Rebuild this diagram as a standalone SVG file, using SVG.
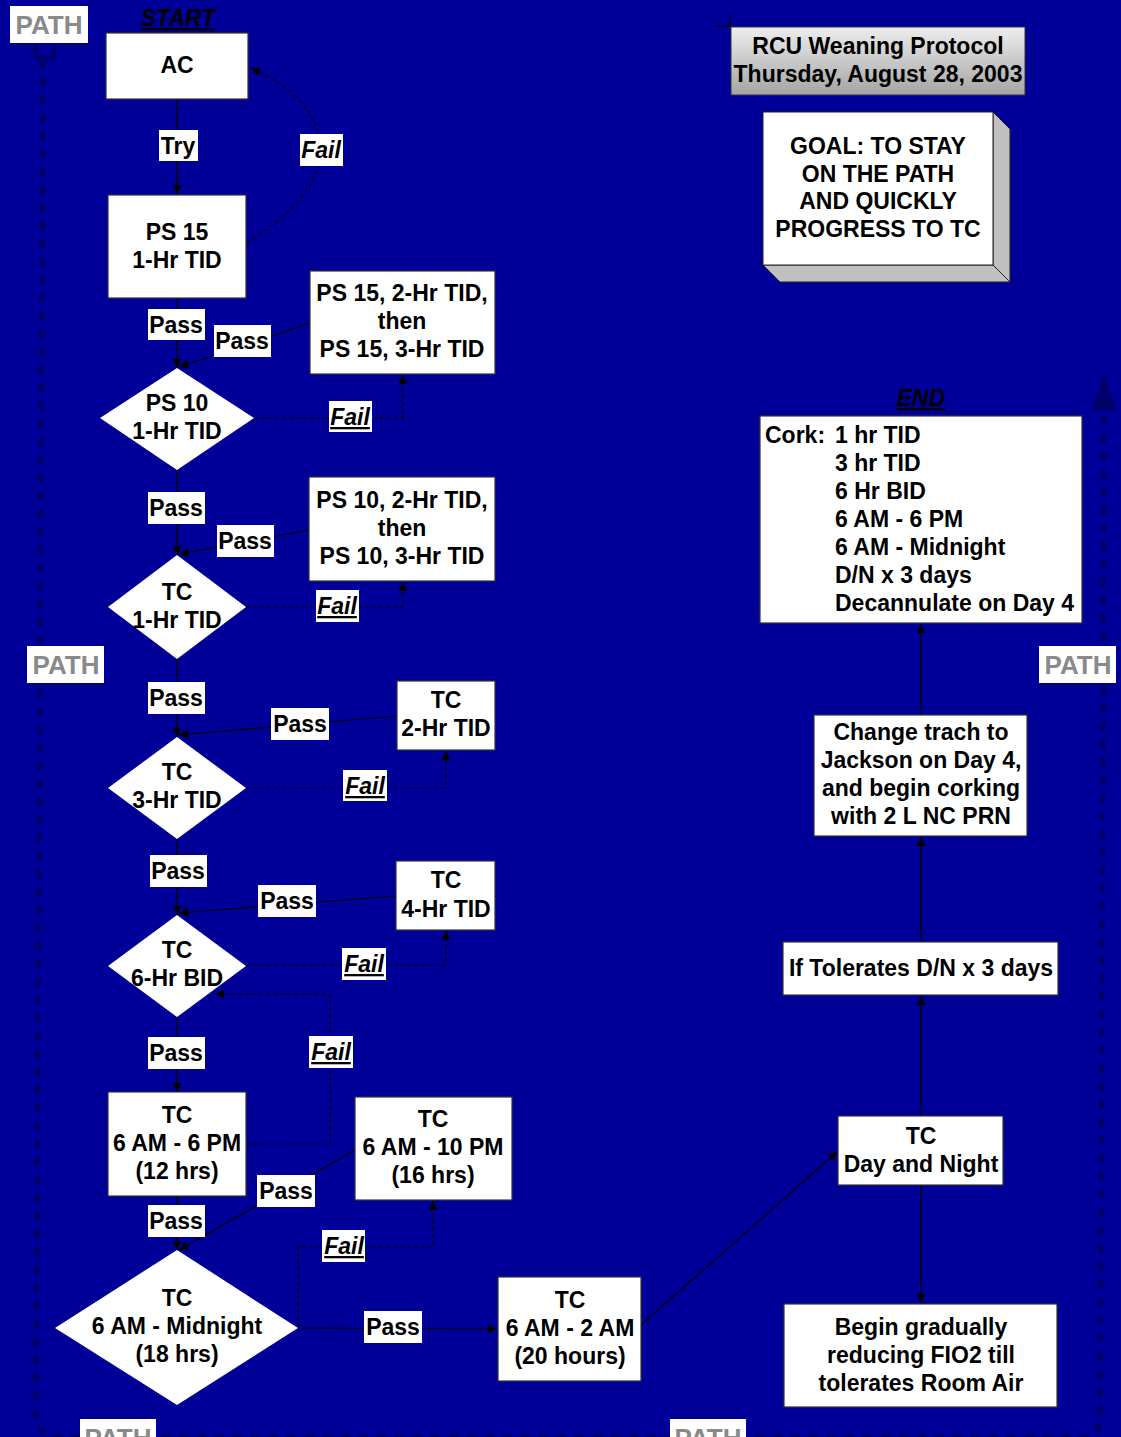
<svg xmlns="http://www.w3.org/2000/svg" width="1121" height="1437" viewBox="0 0 1121 1437">
<style>
.t{font-family:"Liberation Sans",Arial,sans-serif;font-weight:bold;font-size:23px;text-anchor:middle;fill:#000}
.l{text-anchor:start}
.i{font-style:italic}
.u{text-decoration:underline}
.box{fill:#fff;stroke:#333;stroke-width:1.2}
.dia{fill:#fff;stroke:none}
.lab{fill:#fff}
.c{fill:none;stroke:#000;stroke-width:1.2}
.d{fill:none;stroke:#000;stroke-width:1.2;stroke-dasharray:4 3}
.path{fill:none;stroke:#00006a;stroke-width:6;stroke-linecap:round;stroke-dasharray:4 14}
.pl{fill:#fff}
.pt{font-family:"Liberation Sans",Arial,sans-serif;font-weight:bold;font-size:26px;fill:#8a8a8a;text-anchor:middle}
</style>
<defs>
<marker id="a" viewBox="0 0 10 10" refX="10" refY="5" markerWidth="10" markerHeight="9" markerUnits="userSpaceOnUse" orient="auto">
<path d="M0,0 L10,5 L0,10 z" fill="#000"/>
</marker>
<linearGradient id="g" x1="0" y1="0" x2="0" y2="1">
<stop offset="0" stop-color="#eeeeee"/>
<stop offset="1" stop-color="#a4a4a4"/>
</linearGradient>
</defs>
<rect width="1121" height="1437" fill="#000099"/>

<g id="path-line">
<path class="path" d="M43,62 L36,1418 Q38,1437 58,1437 L1085,1437 Q1099,1435 1100,1420 L1104,412"/>
<path d="M36,45 V54 Q36,59 41,59 H49 Q54,59 54,54 V45" fill="none" stroke="#00006a" stroke-width="5"/>
<polygon points="1104,373 1116,410 1092,410" fill="#00006a"/>
<rect class="pl" x="10" y="6" width="78" height="37"/><text class="pt" x="49" y="34">PATH</text>
<rect class="pl" x="27" y="646" width="77" height="37"/><text class="pt" x="66" y="674">PATH</text>
<rect class="pl" x="1039" y="646" width="77" height="37"/><text class="pt" x="1078" y="674">PATH</text>
<rect class="pl" x="80" y="1419" width="76" height="30"/><text class="pt" x="118" y="1447">PATH</text>
<rect class="pl" x="670" y="1419" width="76" height="30"/><text class="pt" x="708" y="1447">PATH</text>
</g>

<g id="connectors">
<line class="c" x1="177" y1="99" x2="177" y2="194" marker-end="url(#a)"/>
<path class="d" d="M247,243 C292,215 322,182 320,147 C318,110 290,86 251,68" marker-end="url(#a)"/>
<line class="c" x1="177" y1="298" x2="177" y2="368" marker-end="url(#a)"/>
<line class="c" x1="310" y1="323" x2="179" y2="367" marker-end="url(#a)"/>
<polyline class="d" points="254,418 403,418 403,375" marker-end="url(#a)"/>
<line class="c" x1="177" y1="470" x2="177" y2="555" marker-end="url(#a)"/>
<line class="c" x1="309" y1="530" x2="179" y2="554" marker-end="url(#a)"/>
<polyline class="d" points="246,607 403,607 403,582" marker-end="url(#a)"/>
<line class="c" x1="177" y1="659" x2="177" y2="737" marker-end="url(#a)"/>
<line class="c" x1="397" y1="716" x2="179" y2="735" marker-end="url(#a)"/>
<polyline class="d" points="246,788 446,788 446,751" marker-end="url(#a)"/>
<line class="c" x1="177" y1="839" x2="177" y2="915" marker-end="url(#a)"/>
<line class="c" x1="396" y1="896" x2="179" y2="913" marker-end="url(#a)"/>
<polyline class="d" points="246,965 446,965 446,931" marker-end="url(#a)"/>
<polyline class="d" points="246,1144 330,1144 330,994 215,994" marker-end="url(#a)"/>
<line class="c" x1="177" y1="1017" x2="177" y2="1092" marker-end="url(#a)"/>
<line class="c" x1="177" y1="1196" x2="177" y2="1250" marker-end="url(#a)"/>
<line class="c" x1="355" y1="1150" x2="179" y2="1250" marker-end="url(#a)"/>
<polyline class="d" points="298,1327 298,1247 433,1247 433,1201" marker-end="url(#a)"/>
<line class="c" x1="298" y1="1328" x2="497" y2="1329" marker-end="url(#a)"/>
<line class="c" x1="641" y1="1325" x2="837" y2="1152" marker-end="url(#a)"/>
<line class="c" x1="921" y1="1185" x2="921" y2="1303" marker-end="url(#a)"/>
<line class="c" x1="921" y1="1116" x2="921" y2="996" marker-end="url(#a)"/>
<line class="c" x1="921" y1="942" x2="921" y2="837" marker-end="url(#a)"/>
<line class="c" x1="921" y1="715" x2="921" y2="624" marker-end="url(#a)"/>
</g>

<g id="labels">
<rect class="lab" x="159" y="130" width="39" height="31"/><text class="t" x="178" y="154">Try</text>
<rect class="lab" x="300" y="134" width="43" height="32"/><text class="t i" x="321" y="158">Fail</text>
<rect class="lab" x="148" y="309" width="57" height="31"/><text class="t" x="176" y="333">Pass</text>
<rect class="lab" x="214" y="325" width="57" height="32"/><text class="t" x="242" y="349">Pass</text>
<rect class="lab" x="329" y="401" width="43" height="31"/><text class="t i u" x="350" y="425">Fail</text>
<rect class="lab" x="148" y="492" width="57" height="32"/><text class="t" x="176" y="516">Pass</text>
<rect class="lab" x="217" y="525" width="57" height="32"/><text class="t" x="245" y="549">Pass</text>
<rect class="lab" x="316" y="590" width="43" height="32"/><text class="t i u" x="337" y="614">Fail</text>
<rect class="lab" x="148" y="682" width="57" height="32"/><text class="t" x="176" y="706">Pass</text>
<rect class="lab" x="271" y="708" width="58" height="32"/><text class="t" x="300" y="732">Pass</text>
<rect class="lab" x="343" y="770" width="44" height="31"/><text class="t i u" x="365" y="794">Fail</text>
<rect class="lab" x="150" y="855" width="57" height="32"/><text class="t" x="178" y="879">Pass</text>
<rect class="lab" x="258" y="885" width="58" height="32"/><text class="t" x="287" y="909">Pass</text>
<rect class="lab" x="342" y="948" width="44" height="32"/><text class="t i u" x="364" y="972">Fail</text>
<rect class="lab" x="309" y="1036" width="44" height="32"/><text class="t i u" x="331" y="1060">Fail</text>
<rect class="lab" x="148" y="1037" width="57" height="32"/><text class="t" x="176" y="1061">Pass</text>
<rect class="lab" x="148" y="1205" width="57" height="32"/><text class="t" x="176" y="1229">Pass</text>
<rect class="lab" x="257" y="1175" width="58" height="32"/><text class="t" x="286" y="1199">Pass</text>
<rect class="lab" x="322" y="1230" width="43" height="32"/><text class="t i u" x="344" y="1254">Fail</text>
<rect class="lab" x="364" y="1311" width="58" height="32"/><text class="t" x="393" y="1335">Pass</text>
</g>

<g id="start"><text class="t i u" x="178" y="26">START</text></g>
<g id="ac"><rect class="box" x="106" y="33" width="142" height="66"/><text class="t" x="177" y="73">AC</text></g>
<g id="ps15"><rect class="box" x="108" y="195" width="138" height="103"/><text class="t" x="177" y="240">PS 15</text><text class="t" x="177" y="268">1-Hr TID</text></g>
<g id="ps15-2hr"><rect class="box" x="310" y="271" width="185" height="103"/><text class="t" x="402" y="301">PS 15, 2-Hr TID,</text><text class="t" x="402" y="329">then</text><text class="t" x="402" y="357">PS 15, 3-Hr TID</text></g>
<g id="ps10"><polygon class="dia" points="177,368 254,418 177,470 100,418"/><text class="t" x="177" y="411">PS 10</text><text class="t" x="177" y="439">1-Hr TID</text></g>
<g id="ps10-2hr"><rect class="box" x="309" y="477" width="186" height="104"/><text class="t" x="402" y="508">PS 10, 2-Hr TID,</text><text class="t" x="402" y="536">then</text><text class="t" x="402" y="564">PS 10, 3-Hr TID</text></g>
<g id="tc1"><polygon class="dia" points="177,555 246,607 177,659 108,607"/><text class="t" x="177" y="600">TC</text><text class="t" x="177" y="628">1-Hr TID</text></g>
<g id="tc2"><rect class="box" x="397" y="681" width="98" height="69"/><text class="t" x="446" y="708">TC</text><text class="t" x="446" y="736">2-Hr TID</text></g>
<g id="tc3"><polygon class="dia" points="177,737 246,788 177,839 108,788"/><text class="t" x="177" y="780">TC</text><text class="t" x="177" y="808">3-Hr TID</text></g>
<g id="tc4"><rect class="box" x="396" y="861" width="99" height="69"/><text class="t" x="446" y="888">TC</text><text class="t" x="446" y="917">4-Hr TID</text></g>
<g id="tc6bid"><polygon class="dia" points="177,915 246,966 177,1017 108,966"/><text class="t" x="177" y="958">TC</text><text class="t" x="177" y="986">6-Hr BID</text></g>
<g id="tc6-6"><rect class="box" x="108" y="1092" width="138" height="104"/><text class="t" x="177" y="1123">TC</text><text class="t" x="177" y="1151">6 AM - 6 PM</text><text class="t" x="177" y="1179">(12 hrs)</text></g>
<g id="tc6-10"><rect class="box" x="355" y="1097" width="157" height="103"/><text class="t" x="433" y="1127">TC</text><text class="t" x="433" y="1155">6 AM - 10 PM</text><text class="t" x="433" y="1183">(16 hrs)</text></g>
<g id="tcmid"><polygon class="dia" points="177,1250 298,1328 177,1405 55,1328"/><text class="t" x="177" y="1306">TC</text><text class="t" x="177" y="1334">6 AM - Midnight</text><text class="t" x="177" y="1362">(18 hrs)</text></g>
<g id="tc6-2"><rect class="box" x="498" y="1277" width="143" height="104"/><text class="t" x="570" y="1308">TC</text><text class="t" x="570" y="1336">6 AM - 2 AM</text><text class="t" x="570" y="1364">(20 hours)</text></g>
<g id="tcdn"><rect class="box" x="838" y="1116" width="165" height="69"/><text class="t" x="921" y="1144">TC</text><text class="t" x="921" y="1172">Day and Night</text></g>
<g id="begin"><rect class="box" x="784" y="1304" width="273" height="103"/><text class="t" x="921" y="1335">Begin gradually</text><text class="t" x="921" y="1363">reducing FIO2 till</text><text class="t" x="921" y="1391">tolerates Room Air</text></g>
<g id="iftol"><rect class="box" x="783" y="942" width="275" height="53"/><text class="t" x="921" y="976">If Tolerates D/N x 3 days</text></g>
<g id="change"><rect class="box" x="814" y="715" width="213" height="121"/><text class="t" x="921" y="740">Change trach to</text><text class="t" x="921" y="768">Jackson on Day 4,</text><text class="t" x="921" y="796">and begin corking</text><text class="t" x="921" y="824">with 2 L NC PRN</text></g>
<g id="end"><text class="t i u" x="921" y="406">END</text></g>
<g id="cork"><rect class="box" x="760" y="416" width="322" height="207"/>
<text class="t l" x="765" y="443">Cork:</text>
<text class="t l" x="835" y="443">1 hr TID</text>
<text class="t l" x="835" y="471">3 hr TID</text>
<text class="t l" x="835" y="499">6 Hr BID</text>
<text class="t l" x="835" y="527">6 AM - 6 PM</text>
<text class="t l" x="835" y="555">6 AM - Midnight</text>
<text class="t l" x="835" y="583">D/N x 3 days</text>
<text class="t l" x="835" y="611">Decannulate on Day 4</text>
</g>
<g id="title">
<path d="M715,26 H731 M730,14 V27" stroke="#000" stroke-width="1.2" fill="none"/>
<rect x="731" y="27" width="294" height="68" fill="url(#g)" stroke="#333" stroke-width="1"/>
<text class="t" x="878" y="54">RCU Weaning Protocol</text>
<text class="t" x="878" y="82">Thursday, August 28, 2003</text>
</g>
<g id="goal">
<polygon points="993,112 1010,129 1010,282 993,265" fill="#c0c0c0" stroke="#222" stroke-width="1"/>
<polygon points="763,265 993,265 1010,282 780,282" fill="#c0c0c0" stroke="#222" stroke-width="1"/>
<rect x="763" y="112" width="230" height="153" fill="#fff" stroke="#222" stroke-width="1"/>
<text class="t" x="878" y="154">GOAL: TO STAY</text>
<text class="t" x="878" y="182">ON THE PATH</text>
<text class="t" x="878" y="209">AND QUICKLY</text>
<text class="t" x="878" y="237">PROGRESS TO TC</text>
</g>
</svg>
